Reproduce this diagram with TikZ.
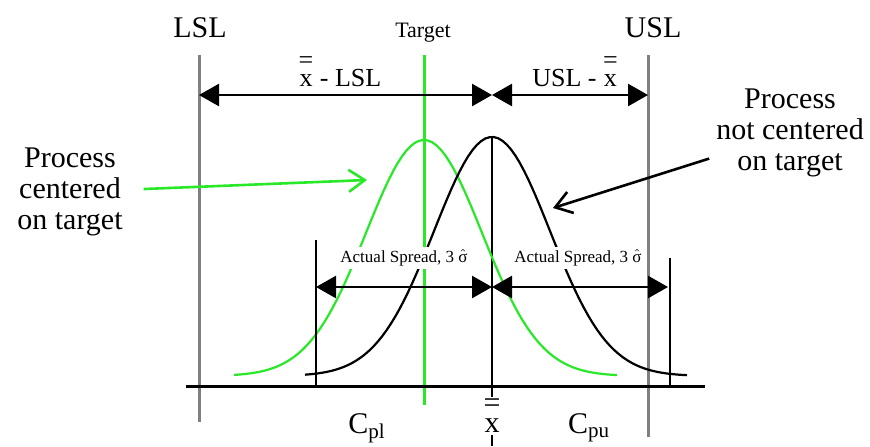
\documentclass[tikz,border=0pt]{standalone}
\usepackage{fontspec}
\setmainfont{Liberation Serif}
\usetikzlibrary{arrows.meta}
\definecolor{limgray}{RGB}{128,128,128}
\definecolor{procgreen}{RGB}{40,232,40}
\tikzset{
 limit/.style={limgray,line width=1.5pt},
 dimarrow/.style={{Triangle[length=10pt,width=11pt]}-{Triangle[length=10pt,width=11pt]},line width=1.3pt},
 pointer/.style={-{Straight Barb[length=8pt,width=11pt]},line width=1.3pt},
 bell/.style={line width=1.1pt},
 bigtext/.style={font=\fontsize{15}{15.5}\selectfont,align=center},
 spreadtext/.style={font=\fontsize{8.5}{10}\selectfont,fill=white,inner sep=1.5pt},
}
\newcommand{\xdbar}{\shortstack{=\\x}}
\begin{document}
\begin{tikzpicture}[x=0.5pt,y=-0.5pt]
 \useasboundingbox (0,0) rectangle (870,446);
 % limits, target and mean
 \coordinate (lslTop) at (199,55); \coordinate (lslBot) at (199,422);
 \coordinate (uslTop) at (648,55); \coordinate (uslBot) at (648,437);
 \coordinate (tgtTop) at (424,55); \coordinate (tgtBot) at (424,405);
 \coordinate (meanTop) at (492,137); \coordinate (meanBot) at (492,446);
 \draw[limit] (lslTop)--(lslBot); \draw[limit] (uslTop)--(uslBot);
 \draw[procgreen,line width=1.5pt] (tgtTop)--(tgtBot);
 \draw[line width=1.3pt] (meanTop)--(meanBot);
 \node[bigtext] (lsl) at (200,28) {LSL};
 \node[bigtext] (usl) at (653,28) {USL};
 \node[font=\fontsize{11}{12}\selectfont] (target) at (423,33) {Target};
 \node[bigtext,fill=white,inner sep=1pt] (mean) at (492,416) {\xdbar};
 % axis
 \coordinate (axL) at (186,386); \coordinate (axR) at (705,386);
 \draw[line width=1.5pt] (axL)--(axR);
 % distances to the limits
 \coordinate (dL) at (199,95); \coordinate (dM) at (492,95); \coordinate (dR) at (648,95);
 \draw[dimarrow] (dL)--(dM); \draw[dimarrow] (dM)--(dR);
 \node[font=\fontsize{13}{14}\selectfont,anchor=base] (dLtxt) at (340,86) {\xdbar{} - LSL};
 \node[font=\fontsize{13}{14}\selectfont,anchor=base] (dRtxt) at (575,86) {USL - \xdbar};
 % curves
 \draw[bell,procgreen] plot[domain=-190:193,samples=90] ({424+\x},{376-236*exp(-(\x/58)*(\x/58)/2)});
 \draw[bell] plot[domain=-187:195,samples=90] ({492+\x},{376-239*exp(-(\x/58)*(\x/58)/2)});
 % actual spread
 \coordinate (sL) at (316,287); \coordinate (sM) at (492,287); \coordinate (sR) at (668,287);
 \draw[line width=1.3pt] (316,240)--(316,386); \draw[line width=1.3pt] (670,258)--(670,386);
 \draw[dimarrow] (sL)--(sM); \draw[dimarrow] (sM)--(sR);
 \node[spreadtext] (sLtxt) at (404,258) {Actual Spread, 3 $\hat{\textrm{σ}}$};
 \node[spreadtext] (sRtxt) at (578,258) {Actual Spread, 3 $\hat{\textrm{σ}}$};
 % process labels
 \node[bigtext] (pc) at (70,192) {Process\\centered\\on target};
 \node[bigtext] (pnc) at (790,133) {Process\\not centered\\on target};
 \coordinate (pcEnd) at (367,180); \coordinate (pncEnd) at (553,208);
 \draw[pointer,procgreen,shorten <=7pt] (pc)--(pcEnd);
 \draw[pointer] (pnc)--(pncEnd);
 \node[bigtext] (cpl) at (367,428) {C\textsubscript{pl}};
 \node[bigtext] (cpu) at (589,428) {C\textsubscript{pu}};
\end{tikzpicture}
\end{document}
